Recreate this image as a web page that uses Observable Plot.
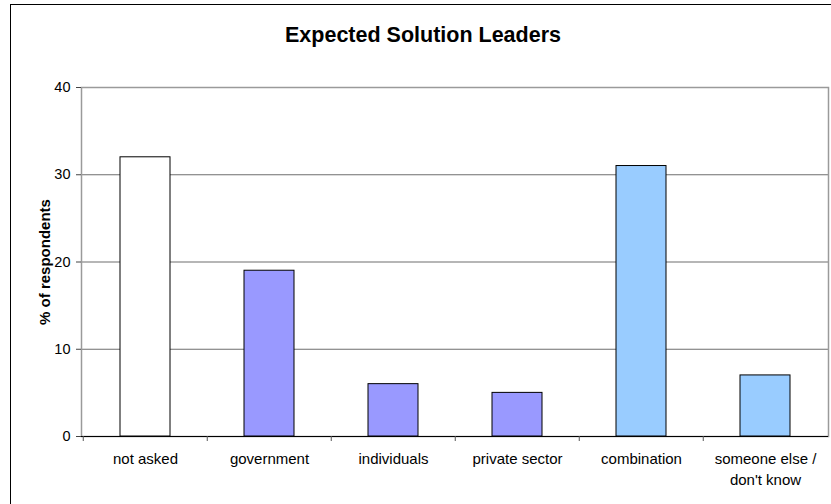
<!DOCTYPE html>
<html>
<head>
<meta charset="utf-8">
<script src="https://cdn.jsdelivr.net/npm/d3@7"></script>
<script src="https://cdn.jsdelivr.net/npm/@observablehq/plot@0.6"></script>
<style>
  html, body { margin: 0; padding: 0; background: #fff; }
  #wrap { position: relative; width: 831px; height: 504px; overflow: hidden; font-family: "Liberation Sans", Arial, sans-serif; }
  #border { position: absolute; left: 9.5px; top: 3.5px; width: 900px; height: 600px; border-left: 1px solid #000; border-top: 1px solid #000; pointer-events: none; }
  #title { height: 60px; box-sizing: border-box; padding-top: 24px; width: 846px; text-align: center; font-weight: bold; font-size: 21.5px; line-height: 22px; color: #000; }
  #chart svg { display: block; }
</style>
</head>
<body>
<div id="wrap">
  <div id="title">Expected Solution Leaders</div>
  <div id="chart"></div>
  <div id="border"></div>
</div>
<script>
const categories = ["not asked", "government", "individuals", "private sector", "combination", "someone else / don't know"];
const tickLabels = ["not asked", "government", "individuals", "private sector", "combination", "someone else /\ndon't know"];
const values = [32, 19, 6, 5, 31, 7];
const fills = ["#FFFFFF", "#9999FF", "#9999FF", "#9999FF", "#99CCFF", "#99CCFF"];
const yTicks = [0, 10, 20, 30, 40];
const yLabel = "% of respondents";

const data = categories.map((c, i) => ({category: c, value: values[i], fill: fills[i]}));
const W = 831, H = 444, mL = 81, mR = 3, mT = 27, mB = 68;
const step = (W - mL - mR) / categories.length;

const chart = Plot.plot({
  width: W,
  height: H,
  marginLeft: mL,
  marginRight: mR,
  marginTop: mT,
  marginBottom: mB,
  style: {fontFamily: "'Liberation Sans', Arial, sans-serif", background: "#fff", color: "#000"},
  x: {domain: categories, paddingInner: 0.6, paddingOuter: 0.3, label: null, axis: null},
  y: {domain: [0, 40], label: null, axis: null},
  marks: [
    Plot.ruleY(yTicks.filter(d => d > 0 && d < 40), {stroke: "#6e6e6e", strokeWidth: 1.2}),
    Plot.frame({stroke: "#9a9a9a", strokeWidth: 1.5}),
    Plot.barY(data, {x: "category", y: "value", fill: "fill", stroke: "#000", strokeWidth: 1}),
    Plot.axisY({ticks: yTicks, tickSize: 5, tickPadding: 6, fontSize: 14.5, stroke: "#444", label: null, color: "#000"}),
    Plot.ruleX([0], {x: () => 0, frameAnchor: "left", stroke: "#555", strokeWidth: 1.5}),
    Plot.ruleY([0], {stroke: "#000", strokeWidth: 1.2}),
    Plot.axisX({ticks: categories, tickSize: 5, tickFormat: () => "", dx: -step / 2, stroke: "#555", label: null}),
    Plot.axisX({ticks: categories, tickSize: 0, tickPadding: 13, fontSize: 15, lineHeight: 1.4,
      tickFormat: (d) => tickLabels[categories.indexOf(d)], label: null}),
    Plot.text([yLabel], {text: d => d, frameAnchor: "left", textAnchor: "middle", dx: -36, rotate: -90, fontSize: 15, fontWeight: "bold", fill: "#000"})
  ]
});
document.getElementById("chart").appendChild(chart);
</script>
</body>
</html>
